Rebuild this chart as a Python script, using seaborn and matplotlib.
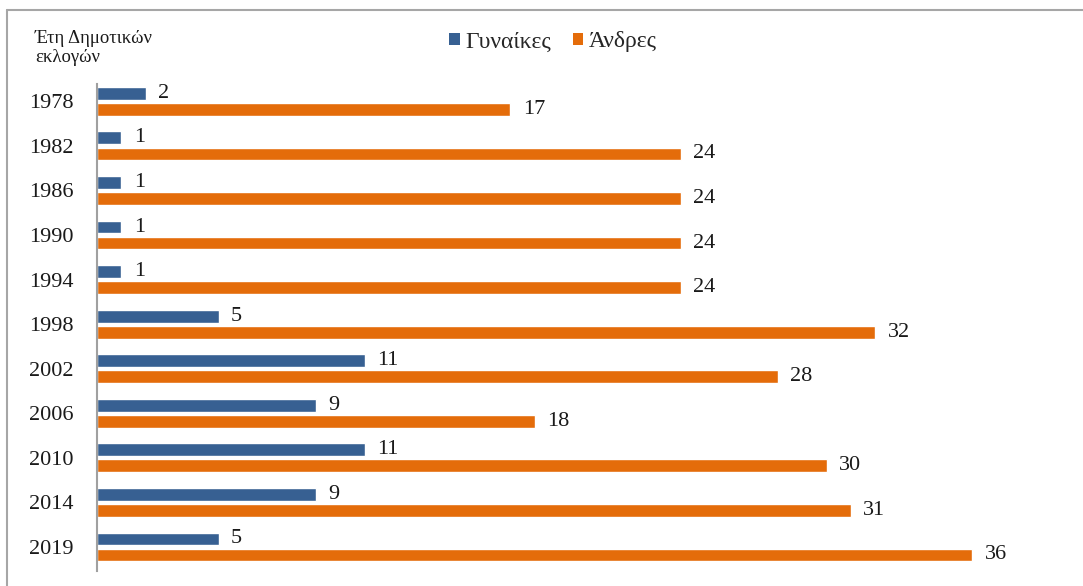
import pandas as pd
import matplotlib.pyplot as plt
import seaborn as sns
from matplotlib.lines import Line2D
from matplotlib.patches import Patch

# data
years = ['1978', '1982', '1986', '1990', '1994', '1998', '2002', '2006', '2010', '2014', '2019']
women = [2, 1, 1, 1, 1, 5, 11, 9, 11, 9, 5]
men = [17, 24, 24, 24, 24, 32, 28, 18, 30, 31, 36]
series = ['Γυναίκες', 'Άνδρες']
colors = ['#376092', '#E46C0A']

df = pd.DataFrame({
    'year': years * 2,
    'count': women + men,
    'sex': [series[0]] * len(years) + [series[1]] * len(years),
})

sns.set_theme(style='white')
plt.rcParams['font.family'] = ['Liberation Serif', 'DejaVu Serif']

W, H = 1083, 586
fig = plt.figure(figsize=(W / 100, H / 100), dpi=100)
ax = fig.add_axes([97 / W, 15 / H, (1060 - 97) / W, (571 - 84) / H])

sns.barplot(data=df, x='count', y='year', hue='sex', palette=colors, orient='h',
            width=0.72, gap=0.2, saturation=1, legend=False, ax=ax)

ax.set_xlim(0, 39.6)
ax.set_ylim(10.54, -0.39)
ax.set_xticks([])
ax.set_xlabel('')
ax.set_ylabel('')
for s in ['top', 'right', 'bottom']:
    ax.spines[s].set_visible(False)
ax.spines['left'].set_color('#a0a0a0')
ax.spines['left'].set_linewidth(1.5)
ax.tick_params(axis='y', length=0, pad=17, labelsize=16, labelcolor='#1a1a1a')

for c in ax.containers:
    ax.bar_label(c, padding=9, fontsize=16, color='#1a1a1a')

# axis title in the top-left corner
fig.text(35 / W, 1 - 30 / H, 'Έτη Δημοτικών\nεκλογών', va='top', ha='left',
         fontsize=13.5, color='#1a1a1a', linespacing=1.15)

# legend
handles = [Patch(facecolor=col, edgecolor='none') for col in colors]
fig.legend(handles, series, loc='center', bbox_to_anchor=(553 / W, 1 - 42 / H),
           ncol=2, frameon=False, fontsize=17, handlelength=0.45, handleheight=0.45,
           handletextpad=0.25, columnspacing=0.9)

# outer frame (top and left only are visible)
fig.add_artist(Line2D([7 / W, 1], [1 - 10 / H] * 2, color='#a6a6a6', lw=1.5))
fig.add_artist(Line2D([7 / W] * 2, [0, 1 - 10 / H], color='#a6a6a6', lw=1.5))

fig.savefig('out.png', dpi=100)
